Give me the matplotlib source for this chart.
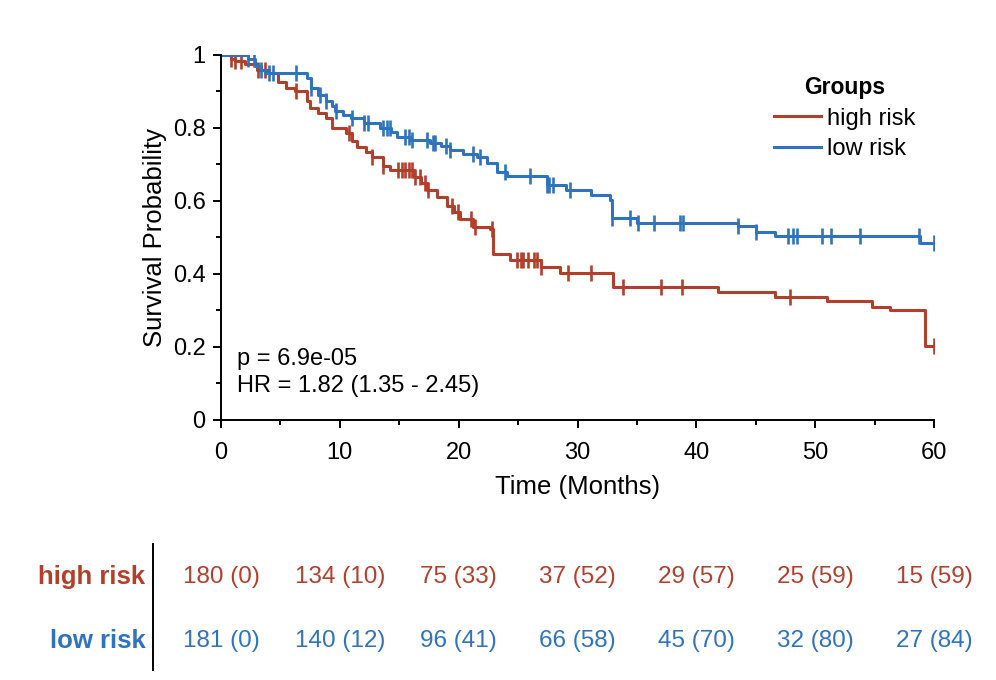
import numpy as np
import matplotlib
matplotlib.use("Agg")
import matplotlib.pyplot as plt
from matplotlib.ticker import MultipleLocator

plt.rcParams['font.family'] = ['Liberation Sans', 'DejaVu Sans']

RED = '#B23E2C'
BLUE = '#2F73BF'

# Kaplan-Meier steps (time, survival)
hr_times = [0, 0.8, 1.2, 2.0, 3.0, 4.0, 4.8, 5.5, 6.2, 7.2, 7.5, 8.2, 8.8, 9.3,
            10.5, 11.0, 11.4, 12.2, 12.7, 13.6, 14.2, 16.2, 16.8, 17.3, 18.2,
            19.0, 19.6, 20.1, 21.2, 22.6, 22.9, 24.3, 26.9, 28.5, 33.0, 41.8,
            46.6, 51.0, 54.8, 56.3, 59.2, 60]
hr_surv = [1.0, 0.99, 0.983, 0.975, 0.96, 0.95, 0.925, 0.91, 0.90, 0.875, 0.855,
           0.84, 0.827, 0.80, 0.786, 0.765, 0.748, 0.735, 0.72, 0.695, 0.685,
           0.665, 0.648, 0.63, 0.61, 0.585, 0.57, 0.55, 0.53, 0.522, 0.455,
           0.438, 0.42, 0.403, 0.365, 0.35, 0.337, 0.326, 0.31, 0.30, 0.203,
           0.203]
hr_cens = [0.8, 1.2, 1.7, 3.1, 3.7, 6.3, 10.8, 12.7, 13.6, 14.9, 15.2, 15.5,
           15.8, 16.1, 16.3, 16.7, 17.2, 17.4, 19.4, 19.9, 21.0, 21.4, 22.8,
           24.9, 25.2, 25.4, 25.8, 26.3, 26.6, 26.9, 29.2, 31.1, 33.8, 37.0,
           38.8, 47.9, 60]

lr_times = [0, 2.3, 2.9, 3.4, 3.7, 7.2, 7.6, 8.2, 8.8, 9.3, 9.6, 10.3, 10.9,
            12.0, 13.4, 14.3, 14.8, 15.9, 17.6, 18.5, 19.3, 20.4, 21.5, 22.4,
            23.2, 24.1, 27.4, 29.0, 31.1, 32.7, 32.9, 35.0, 43.5, 45.0, 46.6,
            58.8, 60]
lr_surv = [1.0, 0.99, 0.97, 0.96, 0.95, 0.937, 0.91, 0.89, 0.874, 0.86, 0.847,
           0.836, 0.828, 0.813, 0.80, 0.79, 0.775, 0.767, 0.759, 0.75, 0.74,
           0.73, 0.72, 0.704, 0.68, 0.667, 0.645, 0.63, 0.617, 0.603, 0.553,
           0.54, 0.532, 0.515, 0.504, 0.485, 0.485]
lr_cens = [2.3, 2.8, 3.4, 4.0, 4.4, 6.3, 7.6, 8.3, 8.8, 9.7, 11.0, 12.0, 12.4,
           13.6, 14.0, 14.2, 15.5, 15.8, 16.1, 17.3, 17.8, 18.0, 18.9, 19.3,
           21.2, 21.8, 23.9, 26.0, 27.4, 27.6, 27.9, 29.4, 32.9, 34.4, 35.1,
           36.4, 38.6, 38.9, 43.5, 45.0, 47.7, 48.1, 48.5, 50.6, 51.3, 53.8,
           58.7, 60]

groups = ['high risk', 'low risk']
risk_times = [0, 10, 20, 30, 40, 50, 60]
hr_risk = ['180 (0)', '134 (10)', '75 (33)', '37 (52)', '29 (57)', '25 (59)', '15 (59)']
lr_risk = ['181 (0)', '140 (12)', '96 (41)', '66 (58)', '45 (70)', '32 (80)', '27 (84)']


def surv_at(times, surv, t):
    idx = np.searchsorted(times, t, side='right') - 1
    return np.asarray(surv)[idx]


W, H = 9.96, 6.8
fig = plt.figure(figsize=(W, H), dpi=100)
ax = fig.add_axes([0.2219, 0.3824, 0.716, 0.5368])

for times, surv, cens, color, label in [
        (hr_times, hr_surv, hr_cens, RED, groups[0]),
        (lr_times, lr_surv, lr_cens, BLUE, groups[1])]:
    ax.step(times, surv, where='post', color=color, lw=2.2, label=label)
    ax.plot(cens, surv_at(times, surv, cens), ls='none', marker='|',
            ms=12, mew=1.9, color=color)

ax.set_xlim(0, 60)
ax.set_ylim(0, 1)
ax.spines['top'].set_visible(False)
ax.spines['right'].set_visible(False)
for s in ['left', 'bottom']:
    ax.spines[s].set_linewidth(1.4)
ax.xaxis.set_major_locator(MultipleLocator(10))
ax.xaxis.set_minor_locator(MultipleLocator(5))
ax.yaxis.set_minor_locator(MultipleLocator(0.1))
ax.set_yticks([0, 0.2, 0.4, 0.6, 0.8, 1.0])
ax.set_yticklabels(['0', '0.2', '0.4', '0.6', '0.8', '1'])
ax.tick_params(which='major', direction='out', length=6, width=1.4,
               labelsize=17, pad=5)
ax.tick_params(axis='x', which='major', pad=10)
ax.tick_params(which='minor', direction='out', length=3.5, width=1.4)
ax.set_xlabel('Time (Months)', fontsize=18.5, labelpad=8)
ax.set_ylabel('Survival Probability', fontsize=18.5, labelpad=4)

ax.text(1.35, 0.168, 'p = 6.9e-05', fontsize=17, va='center')
ax.text(1.35, 0.094, 'HR = 1.82 (1.35 - 2.45)', fontsize=17, va='center')

leg = ax.legend(title='Groups', loc='upper left', bbox_to_anchor=(0.775, 0.942),
                frameon=False, fontsize=17, handlelength=2.0, handletextpad=0.25,
                labelspacing=0.36, borderpad=0, borderaxespad=0)
leg.get_title().set_fontweight('bold')
leg.get_title().set_fontsize(16.5)

# number-at-risk table, columns aligned with the x axis
row_y = [1 - 577 / 680, 1 - 641 / 680]
for y, name, vals, color in zip(row_y, groups, [hr_risk, lr_risk], [RED, BLUE]):
    for t, v in zip(risk_times, vals):
        xf = ax.transData.transform((t, 0))[0] / fig.dpi / W
        fig.text(xf, y, v, ha='center', va='center', color=color, fontsize=17.5)
    fig.text(0.146, y, name, ha='right', va='center', color=color,
             fontsize=18.5, fontweight='bold')
fig.add_artist(plt.Line2D([0.1536, 0.1536], [0.015, 0.2], color='black', lw=1.4))

fig.savefig('out.png', dpi=100)
